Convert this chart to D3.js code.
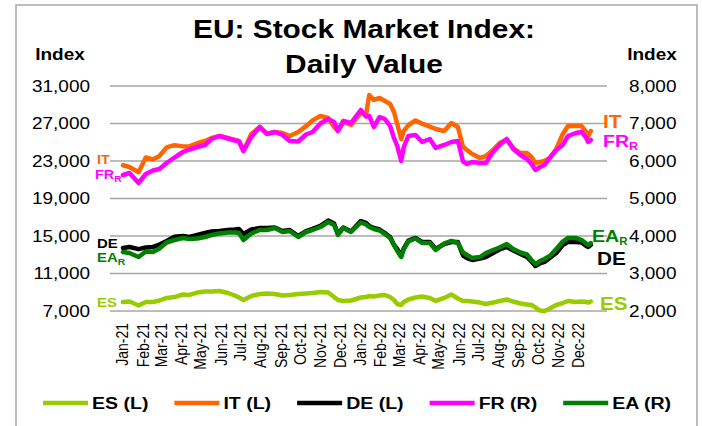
<!DOCTYPE html>
<html>
<head>
<meta charset="utf-8">
<script src="https://d3js.org/d3.v7.min.js"></script>
<style>
  body { margin: 0; background: #fff; }
  svg { display: block; }
</style>
</head>
<body>
<svg id="chart" width="702" height="426"></svg>
<script>
// approx. weekly sample of the daily closes
const dates = [
  "2021-01-04", "2021-01-14", "2021-01-28", "2021-02-08", "2021-02-19", "2021-03-01", "2021-03-12", "2021-03-24",
  "2021-04-06", "2021-04-16", "2021-04-28", "2021-05-10", "2021-05-20", "2021-06-01", "2021-06-14", "2021-06-25",
  "2021-07-01", "2021-07-08", "2021-07-20", "2021-08-02", "2021-08-13", "2021-08-25", "2021-09-06", "2021-09-17",
  "2021-09-30", "2021-10-12", "2021-10-22", "2021-11-03", "2021-11-15", "2021-11-24", "2021-11-30", "2021-12-08",
  "2021-12-20", "2022-01-04", "2022-01-12", "2022-01-17", "2022-01-24", "2022-02-02", "2022-02-10", "2022-02-18",
  "2022-02-24", "2022-03-01", "2022-03-07", "2022-03-11", "2022-03-18", "2022-03-29", "2022-04-08", "2022-04-20",
  "2022-04-29", "2022-05-12", "2022-05-23", "2022-06-02", "2022-06-10", "2022-06-16", "2022-06-24", "2022-07-06",
  "2022-07-15", "2022-07-26", "2022-08-05", "2022-08-16", "2022-08-26", "2022-09-06", "2022-09-16", "2022-09-23",
  "2022-09-29", "2022-10-06", "2022-10-13", "2022-10-21", "2022-10-31", "2022-11-10", "2022-11-18", "2022-11-30",
  "2022-12-09", "2022-12-16", "2022-12-19", "2022-12-23"
];

// left axis
const esValues = [
  7960, 8010, 7590, 7960, 7960, 8120, 8390, 8490, 8760, 8710, 8970, 9080, 9080, 9130, 8920, 8650,
  8440, 8170, 8600, 8810, 8870, 8810, 8650, 8710, 8810, 8870, 8920, 9030, 8970, 8490, 8170, 8070,
  8120, 8440, 8490, 8600, 8550, 8650, 8710, 8490, 8170, 7750, 7640, 7960, 8230, 8440, 8550, 8390,
  8070, 8390, 8760, 8330, 8070, 8070, 8010, 7900, 7750, 7900, 8070, 8230, 8010, 7800, 7700, 7640,
  7380, 7050, 7000, 7270, 7640, 7850, 8070, 7960, 8010, 7960, 7900, 8010
];
const itValues = [
  22550, 22360, 21800, 23370, 23160, 23530, 24450, 24690, 24560, 24560, 24890, 25130, 25450, 25670, 25450, 25240,
  25100, 24070, 25880, 26630, 25920, 26090, 25990, 25670, 26090, 26720, 27330, 27800, 27590, 26630, 26200, 27160,
  26840, 28120, 27910, 30040, 29510, 29720, 29400, 29080, 28230, 26950, 25350, 26200, 26840, 27320, 26990, 26660,
  26410, 26200, 27050, 26630, 24490, 24170, 23750, 23320, 23530, 24170, 24920, 25290, 24390, 23850, 23850, 23430,
  22790, 22890, 23000, 23320, 24280, 25880, 26730, 26730, 26730, 26090, 25670, 26200
];
const deValues = [
  13720, 13830, 13600, 13770, 13830, 14090, 14470, 14910, 15000, 14890, 15110, 15320, 15480, 15530, 15640, 15690,
  15750, 15210, 15690, 15850, 15850, 15900, 15530, 15640, 15000, 15530, 15750, 16070, 16650, 16330, 15210, 15900,
  15480, 16600, 16390, 16070, 15850, 15690, 15320, 14890, 14040, 13610, 12870, 13670, 14520, 14790, 14360, 14360,
  13610, 14150, 14360, 14360, 12920, 12650, 12440, 12600, 12760, 13190, 13560, 13830, 13450, 13080, 12760, 12280,
  11800, 12070, 12230, 12650, 13190, 14040, 14360, 14360, 14310, 13930, 13830, 14040
];
// right axis
const frValues = [
  5627, 5680, 5413, 5653, 5747, 5787, 5947, 6093, 6240, 6307, 6373, 6427, 6587, 6667, 6600, 6547,
  6533, 6267, 6640, 6907, 6720, 6773, 6693, 6533, 6520, 6707, 6773, 7000, 7120, 7040, 6800, 7067,
  7013, 7360, 7187, 7200, 6907, 7173, 7120, 6933, 6613, 6400, 6000, 6373, 6667, 6693, 6507, 6587,
  6347, 6427, 6507, 6533, 5987, 5920, 5973, 5947, 5947, 6240, 6427, 6587, 6320, 6160, 6053, 5920,
  5760, 5840, 5893, 6080, 6293, 6427, 6667, 6747, 6773, 6613, 6507, 6560
];
const eaValues = [
  3573, 3547, 3440, 3587, 3573, 3667, 3827, 3893, 3947, 3920, 3933, 3973, 4027, 4067, 4093, 4093,
  4080, 3893, 4067, 4160, 4160, 4213, 4107, 4133, 3973, 4107, 4160, 4240, 4373, 4293, 4027, 4213,
  4107, 4360, 4307, 4240, 4187, 4147, 4053, 3947, 3760, 3600, 3440, 3653, 3853, 3933, 3813, 3813,
  3627, 3800, 3867, 3813, 3560, 3493, 3413, 3440, 3547, 3627, 3693, 3787, 3653, 3560, 3507, 3360,
  3253, 3333, 3387, 3467, 3653, 3853, 3947, 3947, 3893, 3800, 3760, 3813
];

const leftTicks = [7000, 11000, 15000, 19000, 23000, 27000, 31000];
const rightTicks = [2000, 3000, 4000, 5000, 6000, 7000, 8000];

const series = [
  {name: "ES (L)", values: esValues, axis: "L", color: "#99cc00"},
  {name: "IT (L)", values: itValues, axis: "L", color: "#ff6600"},
  {name: "DE (L)", values: deValues, axis: "L", color: "#000000"},
  {name: "FR (R)", values: frValues, axis: "R", color: "#ff00ff"},
  {name: "EA (R)", values: eaValues, axis: "R", color: "#008000"}
];

const FONT = "'Liberation Sans', Arial, sans-serif";
const SX = 1.15; // the source image is a bit stretched sideways

const svg = d3.select("#chart").attr("font-family", FONT);
const parse = d3.timeParse("%Y-%m-%d");
const days = dates.map(parse);

const x = d3.scaleTime()
    .domain([new Date(2021, 0, 1), new Date(2022, 11, 31)])
    .range([121, 596]);
const yL = d3.scaleLinear().domain([7000, 31000]).range([311, 86]);
const yR = d3.scaleLinear().domain([2000, 8000]).range([311, 86]);

function txt(sel, px, py, s, o = {}) {
    return sel.append("text")
        .attr("transform", "translate(" + px + "," + py + ") scale(" + SX + ",1)")
        .attr("text-anchor", o.anchor || "start")
        .attr("font-size", o.size || 16)
        .attr("font-weight", o.bold ? "bold" : null)
        .attr("fill", o.color || "#000")
        .text(s);
}
function sub(t, s, size) {
    t.append("tspan").attr("font-size", size).attr("dy", "0.3em").text(s);
    return t;
}

// outer frame
svg.append("rect")
    .attr("x", 16).attr("y", 5).attr("width", 681).attr("height", 440)
    .attr("fill", "none").attr("stroke", "#a6a6a6").attr("stroke-width", 1.5);

// title
txt(svg, 364, 37.5, "EU: Stock Market Index:", {anchor: "middle", size: 26, bold: true});
txt(svg, 364, 73, "Daily Value", {anchor: "middle", size: 26, bold: true});
txt(svg, 60, 60, "Index", {anchor: "middle", size: 16.5, bold: true});
txt(svg, 652, 60, "Index", {anchor: "middle", size: 16.5, bold: true});

// grid
svg.append("g").selectAll("line")
    .data(leftTicks)
    .join("line")
    .attr("x1", 110).attr("x2", 607)
    .attr("y1", d => yL(d)).attr("y2", d => yL(d))
    .attr("stroke", "#a6a6a6").attr("stroke-width", 1.5);

// axes
const fmt = d3.format(",");
const gl = svg.append("g").attr("transform", "translate(90,0)")
    .call(d3.axisLeft(yL).tickValues(leftTicks).tickFormat(fmt).tickSize(0));
const gr = svg.append("g").attr("transform", "translate(629,0)")
    .call(d3.axisRight(yR).tickValues(rightTicks).tickFormat(fmt).tickSize(0));
[gl, gr].forEach(g => {
    g.select(".domain").remove();
    g.selectAll("text")
        .attr("x", null)
        .attr("transform", "scale(" + SX + ",1)")
        .attr("font-size", 16.5)
        .attr("font-family", FONT)
        .attr("fill", "#000");
});

const gx = svg.append("g").attr("transform", "translate(0,311)")
    .call(d3.axisBottom(x).ticks(d3.timeMonth.every(1)).tickFormat(d3.timeFormat("%b-%y")).tickSize(0));
gx.select(".domain").remove();
gx.selectAll("text")
    .attr("x", null).attr("y", null)
    .attr("dy", "0.36em")
    .attr("text-anchor", "end")
    .attr("transform", "translate(1,12) scale(" + SX + ",1) rotate(-90)")
    .attr("font-size", 14)
    .attr("font-family", FONT)
    .attr("fill", "#000");

// lines
series.forEach(s => {
    const yy = s.axis === "L" ? yL : yR;
    const line = d3.line()
        .x((d, i) => x(days[i]))
        .y(d => yy(d));
    svg.append("path")
        .datum(s.values)
        .attr("d", line)
        .attr("fill", "none")
        .attr("stroke", s.color)
        .attr("stroke-width", 4.5)
        .attr("stroke-linejoin", "round")
        .attr("stroke-linecap", "round");
});

// line labels, left end
txt(svg, 97, 164, "IT", {size: 12.5, bold: true, color: "#ff6600"});
sub(txt(svg, 95, 179, "FR", {size: 12.5, bold: true, color: "#ff00ff"}), "R", 9);
txt(svg, 97, 248, "DE", {size: 13, bold: true, color: "#000"});
sub(txt(svg, 97, 262, "EA", {size: 13, bold: true, color: "#008000"}), "R", 9);
txt(svg, 97, 307, "ES", {size: 13, bold: true, color: "#99cc00"});

// line labels, right end
txt(svg, 603, 128, "IT", {size: 18, bold: true, color: "#ff6600"});
sub(txt(svg, 603, 147, "FR", {size: 17, bold: true, color: "#ff00ff"}), "R", 11);
sub(txt(svg, 592, 242, "EA", {size: 17, bold: true, color: "#008000"}), "R", 10);
txt(svg, 597, 265, "DE", {size: 18, bold: true, color: "#000"});
txt(svg, 600, 310, "ES", {size: 18, bold: true, color: "#99cc00"});

// legend
const legend = svg.append("g");
let lx = 43;
series.forEach(s => {
    legend.append("line")
        .attr("x1", lx).attr("x2", lx + 45)
        .attr("y1", 403).attr("y2", 403)
        .attr("stroke", s.color).attr("stroke-width", 4.5);
    const t = txt(legend, lx + 49, 409, s.name, {size: 17, bold: true});
    lx += 49 + t.node().getComputedTextLength() * SX + 26;
});
</script>
</body>
</html>
